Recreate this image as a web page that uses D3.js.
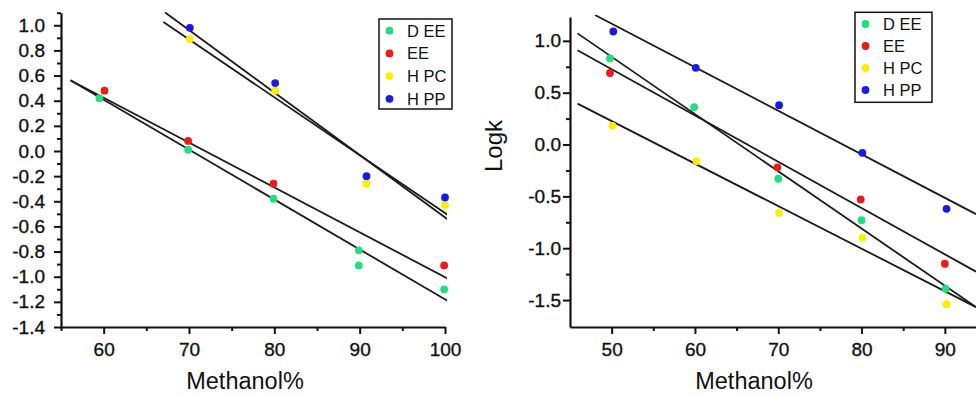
<!DOCTYPE html>
<html>
<head>
<meta charset="utf-8">
<script src="https://cdn.jsdelivr.net/npm/d3@7"></script>
<style>
  html, body { margin: 0; padding: 0; background: #fff; }
  svg { display: block; font-family: "Liberation Sans", Arial, sans-serif; }
</style>
</head>
<body>
<svg id="chart" width="976" height="395"></svg>
<script>
// ---- series ----
const seriesNames = ["D EE", "EE", "H PC", "H PP"];
const seriesColors = ["#1fe07f", "#ee1a1a", "#fbef00", "#1a1ae8"];

// ---- left panel data ----
const leftDEEx = [59.5, 69.9, 79.9, 89.9, 89.9, 99.9];
const leftDEEy = [0.42, 0.01, -0.38, -0.79, -0.91, -1.10];
const leftEEx = [60.1, 69.9, 79.9, 99.9];
const leftEEy = [0.48, 0.08, -0.26, -0.91];
const leftHPCx = [70.1, 80.1, 90.8, 100];
const leftHPCy = [0.89, 0.48, -0.26, -0.43];
const leftHPPx = [70.1, 80.1, 90.8, 100];
const leftHPPy = [0.98, 0.54, -0.20, -0.37];
// fit lines: [x1, y1, x2, y2]
const leftFits = [
  [56.1, 0.563, 100.4, -1.196],
  [56.1, 0.563, 100.4, -1.018],
  [67.0, 1.026, 100.4, -0.512],
  [67.2, 1.101, 100.4, -0.548]
];
const leftYTicks = [-1.4, -1.2, -1.0, -0.8, -0.6, -0.4, -0.2, 0.0, 0.2, 0.4, 0.6, 0.8, 1.0];
const leftXTicks = [60, 70, 80, 90, 100];

// ---- right panel data ----
const rightDEEx = [49.8, 59.9, 70.0, 80.0, 90.1];
const rightDEEy = [0.83, 0.36, -0.33, -0.73, -1.39];
const rightEEx = [49.8, 69.9, 79.9, 90.0];
const rightEEy = [0.69, -0.22, -0.53, -1.15];
const rightHPCx = [50.1, 60.2, 70.1, 80.1, 90.2];
const rightHPCy = [0.18, -0.16, -0.66, -0.90, -1.54];
const rightHPPx = [50.2, 60.1, 70.1, 80.1, 90.2];
const rightHPPy = [1.09, 0.74, 0.38, -0.08, -0.62];
const rightFits = [
  [45.9, 1.072, 93.74, -1.568],
  [45.9, 0.910, 93.74, -1.226],
  [45.9, 0.394, 93.74, -1.568],
  [48.0, 1.249, 93.74, -0.671]
];
const rightYTicks = [-1.5, -1.0, -0.5, 0.0, 0.5, 1.0];
const rightXTicks = [50, 60, 70, 80, 90];

const svg = d3.select("#chart");

function zip(xs, ys) { return xs.map((x, i) => [x, ys[i]]); }

function drawPanel(p) {
  const x = d3.scaleLinear().domain(p.xDomain).range(p.xRange);
  const y = d3.scaleLinear().domain(p.yDomain).range(p.yRange);
  const g = svg.append("g");

  // minor ticks
  g.append("g")
    .attr("transform", `translate(${p.xRange[0]},0)`)
    .call(d3.axisLeft(y).tickValues(p.yMinor).tickSize(4).tickFormat(""))
    .call(a => a.select(".domain").remove());
  g.append("g")
    .attr("transform", `translate(0,${p.yRange[0]})`)
    .call(d3.axisBottom(x).tickValues(p.xMinor).tickSize(4).tickFormat(""))
    .call(a => a.select(".domain").remove());

  // major axes
  const ya = g.append("g")
    .attr("transform", `translate(${p.xRange[0]},0)`)
    .call(d3.axisLeft(y).tickValues(p.yTicks).tickSize(7).tickSizeOuter(0)
      .tickPadding(p.yPad).tickFormat(d => d.toFixed(1)));
  const xa = g.append("g")
    .attr("transform", `translate(0,${p.yRange[0]})`)
    .call(d3.axisBottom(x).tickValues(p.xTicks).tickSize(7).tickSizeOuter(0)
      .tickPadding(9).tickFormat(d3.format("d")));
  [ya, xa].forEach(a => {
    a.selectAll("text").attr("font-size", 19).attr("fill", "#111")
      .attr("stroke", "#111").attr("stroke-width", 0.35)
      .attr("font-family", "'Liberation Sans', Arial, sans-serif");
    a.selectAll("line").attr("stroke", "#111").attr("stroke-width", 2);
    a.select(".domain").attr("stroke", "#111").attr("stroke-width", 2.2);
  });
  g.selectAll(".tick line").attr("stroke", "#111").attr("stroke-width", 2);

  // fit lines
  const clipId = "clip" + p.id;
  svg.append("clipPath").attr("id", clipId).append("rect")
    .attr("x", p.xRange[0]).attr("y", p.yRange[1] - 2)
    .attr("width", p.xRange[1] - p.xRange[0] + 2)
    .attr("height", p.yRange[0] - p.yRange[1] + 2);
  const lineGen = d3.line().x(d => x(d[0])).y(d => y(d[1]));
  g.append("g").attr("clip-path", `url(#${clipId})`)
    .selectAll("path").data(p.fits).join("path")
    .attr("d", f => lineGen([[f[0], f[1]], [f[2], f[3]]]))
    .attr("fill", "none").attr("stroke", "#1a1a1a").attr("stroke-width", 1.8);

  // points
  p.series.forEach((pts, si) => {
    g.append("g").selectAll("circle").data(pts).join("circle")
      .attr("cx", d => x(d[0])).attr("cy", d => y(d[1])).attr("r", 3.9)
      .attr("fill", seriesColors[si]);
  });

  // legend
  const lg = g.append("g");
  lg.append("rect").attr("x", p.legend.x).attr("y", p.legend.y)
    .attr("width", p.legend.w).attr("height", p.legend.h)
    .attr("fill", "#fff").attr("stroke", "#111").attr("stroke-width", 1.5);
  const rows = lg.selectAll("g.row").data(seriesNames).join("g").attr("class", "row")
    .attr("transform", (d, i) => `translate(${p.legend.x},${p.legend.y + p.legend.first + i * p.legend.step})`);
  rows.append("circle").attr("cx", 10.5).attr("cy", 0).attr("r", 3.9)
    .attr("fill", (d, i) => seriesColors[i]);
  rows.append("text").attr("x", 28).attr("y", 0).attr("dy", "0.36em")
    .attr("font-size", 16.5).attr("fill", "#111").text(d => d);

  // axis titles
  g.append("text").attr("x", p.xTitle[0]).attr("y", p.xTitle[1])
    .attr("text-anchor", "middle").attr("font-size", 23.5).attr("fill", "#111")
    .text("Methanol%");
  if (p.yTitle) {
    g.append("text")
      .attr("transform", `translate(${p.yTitle[0]},${p.yTitle[1]}) rotate(-90)`)
      .attr("text-anchor", "middle").attr("font-size", 24).attr("fill", "#111")
      .text("Logk");
  }
}

drawPanel({
  id: "L",
  xDomain: [55, 100], xRange: [61, 445],
  yDomain: [-1.4, 1.1], yRange: [327, 12.7],
  yTicks: leftYTicks, xTicks: leftXTicks,
  yMinor: d3.range(-13, 12, 2).map(v => v / 10),
  xMinor: [55, 65, 75, 85, 95],
  yPad: 9,
  fits: leftFits,
  series: [zip(leftDEEx, leftDEEy), zip(leftEEx, leftEEy), zip(leftHPCx, leftHPCy), zip(leftHPPx, leftHPPy)],
  legend: { x: 379, y: 19, w: 73, h: 90, first: 11.7, step: 22.7 },
  xTitle: [245, 389]
});

drawPanel({
  id: "R",
  xDomain: [45, 93.74], xRange: [570, 976],
  yDomain: [-1.76, 1.23], yRange: [327, 17],
  yTicks: rightYTicks, xTicks: rightXTicks,
  yMinor: [-1.25, -0.75, -0.25, 0.25, 0.75],
  xMinor: [55, 65, 75, 85],
  yPad: 2,
  fits: rightFits,
  series: [zip(rightDEEx, rightDEEy), zip(rightEEx, rightEEy), zip(rightHPCx, rightHPCy), zip(rightHPPx, rightHPPy)],
  legend: { x: 855, y: 12.3, w: 77, h: 90, first: 11.7, step: 22 },
  xTitle: [754, 389],
  yTitle: [502, 146]
});
</script>
</body>
</html>
